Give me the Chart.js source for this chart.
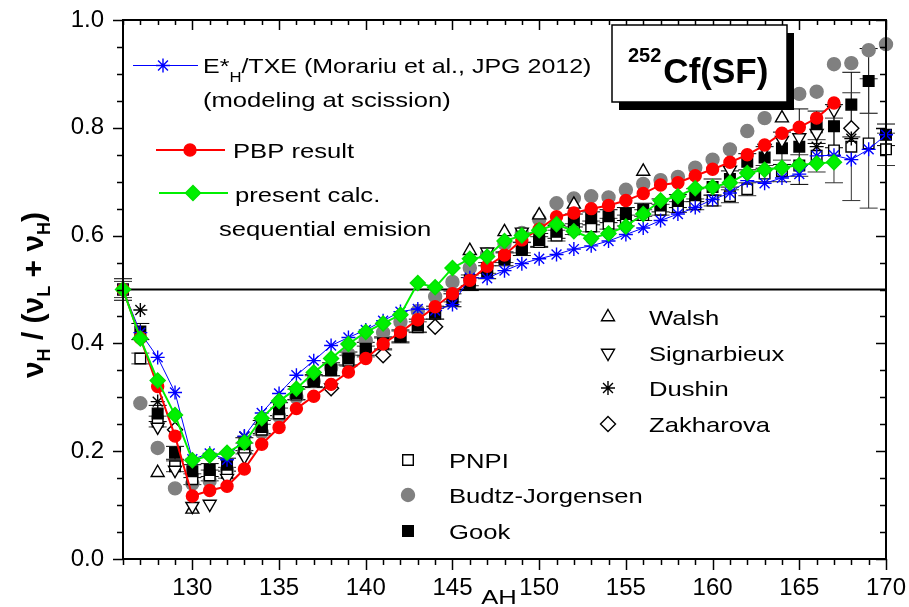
<!DOCTYPE html>
<html>
<head>
<meta charset="utf-8">
<script src="https://cdn.jsdelivr.net/npm/chart.js@4.4.1/dist/chart.umd.min.js"></script>
<style>
  html, body { margin: 0; padding: 0; background: #fff; }
</style>
</head>
<body>
<canvas id="c" width="909" height="607"></canvas>
<script>
// heavy fragment mass number
const massNumbers = [126, 127, 128, 129, 130, 131, 132, 133, 134, 135,
                     136, 137, 138, 139, 140, 141, 142, 143, 144, 145,
                     146, 147, 148, 149, 150, 151, 152, 153, 154, 155,
                     156, 157, 158, 159, 160, 161, 162, 163, 164, 165,
                     166, 167, 168, 169, 170];

// E*H/TXE, Morariu et al. (modeling at scission)
const morariu = [0.50, 0.42, 0.374, 0.309, 0.185, 0.196, 0.184, 0.228, 0.271, 0.307,
                 0.341, 0.368, 0.396, 0.411, 0.425, 0.442, 0.459, 0.464, 0.461, 0.472,
                 0.522, 0.521, 0.535, 0.548, 0.557, 0.565, 0.575, 0.581, 0.590, 0.602,
                 0.614, 0.628, 0.640, 0.652, 0.667, 0.679, 0.702, 0.697, 0.707, 0.714,
                 0.748, 0.749, 0.741, 0.760, 0.787];

// PBP result
const pbp = [0.50, 0.41, 0.32, 0.228, 0.117, 0.127, 0.135, 0.167, 0.213, 0.244,
             0.279, 0.302, 0.324, 0.347, 0.372, 0.399, 0.421, 0.444, 0.468, 0.492,
             0.517, 0.543, 0.564, 0.592, 0.612, 0.635, 0.642, 0.650, 0.656, 0.665,
             0.678, 0.694, 0.698, 0.711, 0.723, 0.736, 0.750, 0.768, 0.790, 0.801,
             0.818, 0.846, null, null, null];

// present calc., sequential emission
const present = [0.50, 0.409, 0.331, 0.267, 0.183, 0.192, 0.197, 0.216, 0.261, 0.293,
                 0.316, 0.346, 0.372, 0.399, 0.421, 0.437, 0.453, 0.512, 0.504, 0.540,
                 0.557, 0.561, 0.590, 0.600, 0.610, 0.621, 0.608, 0.595, 0.604, 0.617,
                 0.640, 0.665, 0.673, 0.688, 0.690, 0.698, 0.716, 0.722, 0.726, 0.731,
                 0.734, 0.736, null, null, null];

// experimental data
const budtz = [null, 0.289, 0.206, 0.131, 0.14, 0.145, 0.165, 0.20, 0.235, 0.265,
               0.30, 0.33, 0.355, 0.38, 0.405, 0.42, 0.44, 0.46, 0.487, 0.514,
               0.54, 0.565, 0.585, 0.605, 0.63, 0.66, 0.669, 0.673, 0.671, 0.685,
               0.696, 0.703, 0.709, 0.726, 0.741, 0.76, 0.794, 0.818, null, 0.863,
               0.867, 0.918, 0.920, 0.944, 0.955];

const gook = [0.50, 0.422, 0.27, 0.197, 0.163, 0.165, 0.175, 0.213, 0.245, 0.278,
              0.308, 0.33, 0.352, 0.372, 0.39, 0.40, 0.413, 0.433, 0.457, 0.48,
              0.51, 0.532, 0.556, 0.575, 0.592, 0.607, 0.628, 0.632, 0.636, 0.640,
              0.648, 0.656, 0.664, 0.675, 0.69, 0.705, 0.737, 0.745, 0.762, 0.765,
              0.801, 0.803, 0.843, 0.887, 0.787];
const gookErr = [0.02, 0.015, 0.015, 0.012, 0.012, 0.012, 0.012, 0.012, 0.012, 0.012,
                 0.012, 0.012, 0.012, 0.012, 0.012, 0.012, 0.012, 0.012, 0.012, 0.012,
                 0.012, 0.012, 0.012, 0.012, 0.012, 0.012, 0.012, 0.012, 0.012, 0.012,
                 0.012, 0.012, 0.012, 0.012, 0.015, 0.015, 0.015, 0.02, 0.03, 0.07,
                 0.03, 0.04, 0.06, 0.06, 0.02];

const pnpi = [0.50, 0.372, 0.255, 0.172, 0.148, 0.155, 0.16, 0.205, 0.24, 0.27,
              0.305, 0.33, 0.35, 0.368, 0.385, 0.40, 0.413, 0.43, 0.455, 0.487,
              0.517, 0.54, 0.56, 0.578, 0.588, 0.600, 0.612, 0.617, 0.622, 0.628,
              0.638, 0.648, 0.653, 0.658, 0.665, 0.673, 0.686, 0.715, 0.72, 0.73,
              0.748, 0.758, 0.765, 0.771, 0.760];
const pnpiErr = [0.015, 0.01, 0.01, 0.01, 0.01, 0.01, 0.01, 0.01, 0.01, 0.01,
                 0.01, 0.01, 0.01, 0.01, 0.01, 0.01, 0.01, 0.01, 0.01, 0.01,
                 0.01, 0.01, 0.01, 0.01, 0.01, 0.01, 0.01, 0.01, 0.01, 0.01,
                 0.01, 0.01, 0.01, 0.01, 0.01, 0.012, 0.012, 0.015, 0.02, 0.02,
                 0.03, 0.06, 0.10, 0.12, 0.03];

const walshA = [128, 130, 146, 148, 150, 152, 156, 164];
const walshV = [0.16, 0.092, 0.572, 0.607, 0.638, 0.658, 0.719, 0.818];

const signarbieuxA = [128, 129, 130, 131, 132, 133, 138, 147, 149, 161, 163, 164, 165, 166, 167];
const signarbieuxV = [0.245, 0.165, 0.098, 0.102, 0.15, 0.19, 0.318, 0.57, 0.607, 0.722, 0.762, 0.777, 0.782, 0.79, 0.833];

const dushinA = [127, 128, 133, 166, 168];
const dushinV = [0.462, 0.292, 0.227, 0.765, 0.78];

const zakharovaA = [129, 138, 141, 144, 168];
const zakharovaV = [0.24, 0.317, 0.378, 0.431, 0.799];

// axes
const xTicks = [130, 135, 140, 145, 150, 155, 160, 165, 170];
const yTicks = [0.0, 0.2, 0.4, 0.6, 0.8, 1.0];
const yMinorTicks = [0.05, 0.1, 0.15, 0.25, 0.3, 0.35, 0.45, 0.5, 0.55, 0.65, 0.7, 0.75, 0.85, 0.9, 0.95];

const FONT = '"Liberation Sans", Arial, Helvetica, sans-serif';

function pts(xs, ys, errs) {
    const out = [];
    xs.forEach((x, i) => {
        if (ys[i] === null) return;
        const p = { x: x, y: ys[i] };
        if (errs) p.e = errs[i];
        out.push(p);
    });
    return out;
}

function marker(style, color, fill, radius, extra) {
    return Object.assign({
        showLine: false,
        pointStyle: style,
        pointRadius: radius,
        pointHoverRadius: radius,
        pointBorderColor: color,
        pointBackgroundColor: fill,
        pointBorderWidth: 1.4,
        clip: false
    }, extra || {});
}

const datasets = [
    Object.assign(marker('rectRot', '#00e000', '#00f000', 7.5, { order: 0 }), {
        label: 'present calc.', data: pts(massNumbers, present),
        showLine: true, borderColor: '#00f000', borderWidth: 2
    }),
    Object.assign(marker('circle', '#ff0000', '#ff0000', 6, { order: 1 }), {
        label: 'PBP result', data: pts(massNumbers, pbp),
        showLine: true, borderColor: '#ff0000', borderWidth: 2
    }),
    Object.assign(marker('star', '#0000ff', '#0000ff', 7, { order: 2 }), {
        label: 'Morariu', data: pts(massNumbers, morariu),
        showLine: true, borderColor: '#0000ff', borderWidth: 1
    }),
    Object.assign(marker('star', '#000', '#000', 7, { order: 3 }), { label: 'Dushin', data: pts(dushinA, dushinV) }),
    Object.assign(marker('rectRot', '#000', '#fff', 7.5, { order: 4 }), { label: 'Zakharova', data: pts(zakharovaA, zakharovaV) }),
    Object.assign(marker('triangle', '#000', '#fff', 7.5, { order: 5, pointRotation: 180 }), { label: 'Signarbieux', data: pts(signarbieuxA, signarbieuxV) }),
    Object.assign(marker('triangle', '#000', '#fff', 7.5, { order: 6 }), { label: 'Walsh', data: pts(walshA, walshV) }),
    Object.assign(marker('rect', '#000', '#000', 7.5, { order: 7 }), { label: 'Gook', data: pts(massNumbers, gook, gookErr), errColor: '#000' }),
    Object.assign(marker('rect', '#000', '#fff', 7.5, { order: 8 }), { label: 'PNPI', data: pts(massNumbers, pnpi, pnpiErr), errColor: '#333' }),
    Object.assign(marker('circle', '#808080', '#808080', 6.5, { order: 9 }), { label: 'Budtz-Jorgensen', data: pts(massNumbers, budtz) }),
    {
        label: 'half', data: [{ x: 126, y: 0.5 }, { x: 170, y: 0.5 }], showLine: true,
        borderColor: '#000', borderWidth: 2, pointRadius: 0, order: 10
    }
];

// vertical error bars with caps
const errorBars = {
    id: 'errorBars',
    beforeDatasetsDraw(chart) {
        const { ctx, scales: { x, y } } = chart;
        ctx.save();
        ctx.lineWidth = 1;
        chart.data.datasets.forEach(ds => {
            if (!ds.errColor) return;
            ctx.strokeStyle = ds.errColor;
            ds.data.forEach(p => {
                if (!p.e) return;
                const px = x.getPixelForValue(p.x);
                const y1 = y.getPixelForValue(p.y + p.e);
                const y2 = y.getPixelForValue(p.y - p.e);
                ctx.beginPath();
                ctx.moveTo(px, y1); ctx.lineTo(px, y2);
                ctx.moveTo(px - 9, y1); ctx.lineTo(px + 9, y1);
                ctx.moveTo(px - 9, y2); ctx.lineTo(px + 9, y2);
                ctx.stroke();
            });
        });
        ctx.restore();
    }
};

// box frame with major/minor ticks on all sides
const frameTicks = {
    id: 'frameTicks',
    afterDraw(chart) {
        const { ctx, chartArea: a, scales: { x, y } } = chart;
        ctx.save();
        ctx.strokeStyle = '#000';
        ctx.lineWidth = 1.5;
        ctx.beginPath();
        massNumbers.forEach(v => {
            const px = Math.round(x.getPixelForValue(v)) + 0.5;
            const major = xTicks.includes(v);
            ctx.moveTo(px, a.bottom); ctx.lineTo(px, a.bottom + (major ? 11 : 6));
            ctx.moveTo(px, a.top); ctx.lineTo(px, a.top + (major ? 10 : 5));
        });
        yTicks.concat(yMinorTicks).forEach(v => {
            const py = Math.round(y.getPixelForValue(v)) + 0.5;
            const major = yTicks.includes(v);
            ctx.moveTo(a.left, py); ctx.lineTo(a.left - (major ? 10 : 6), py);
            ctx.moveTo(a.right, py); ctx.lineTo(a.right - (major ? 10 : 6), py);
        });
        ctx.stroke();
        ctx.lineWidth = 2;
        ctx.strokeRect(a.left, a.top, a.right - a.left, a.bottom - a.top);
        ctx.restore();
    }
};

function text(ctx, s, x, y, size, opt) {
    opt = opt || {};
    const sx = opt.sx || 1;
    ctx.save();
    ctx.font = (opt.bold ? 'bold ' : '') + size + 'px ' + FONT;
    ctx.fillStyle = '#000';
    ctx.textBaseline = 'alphabetic';
    ctx.textAlign = 'left';
    ctx.translate(x, y);
    ctx.scale(sx, 1);
    ctx.fillText(s, 0, 0);
    const w = ctx.measureText(s).width * sx;
    ctx.restore();
    return w;
}

function richWidth(ctx, parts, sx) {
    let w = 0;
    parts.forEach(p => {
        ctx.font = (p.bold ? 'bold ' : '') + p.size + 'px ' + FONT;
        w += ctx.measureText(p.t).width * sx;
    });
    return w;
}

function rich(ctx, parts, x, y, sx) {
    let cx = x;
    parts.forEach(p => {
        cx += text(ctx, p.t, cx, y + (p.dy || 0), p.size, { bold: p.bold, sx: sx });
    });
}

function symbol(ctx, style, x, y, radius, stroke, fill, rotation, lw) {
    ctx.save();
    ctx.strokeStyle = stroke;
    ctx.fillStyle = fill;
    ctx.lineWidth = lw || 1.4;
    Chart.helpers.drawPoint(ctx, { pointStyle: style, radius: radius, rotation: rotation || 0, borderWidth: lw || 1.4 }, x, y);
    ctx.restore();
}

const LSX = 1.22;   // legend text is drawn a little wide in the original

const annotations = {
    id: 'annotations',
    afterDraw(chart) {
        const ctx = chart.ctx;

        // model legend (top left)
        ctx.save();
        ctx.strokeStyle = '#0000ff'; ctx.lineWidth = 1;
        ctx.beginPath(); ctx.moveTo(133, 65.5); ctx.lineTo(198, 65.5); ctx.stroke();
        ctx.restore();
        symbol(ctx, 'star', 163, 65.5, 7, '#0000ff', '#0000ff');
        rich(ctx, [
            { t: 'E*', size: 21 },
            { t: 'H', size: 14, dy: 9 },
            { t: '/TXE (Morariu et al., JPG 2012)', size: 21 }
        ], 203, 73, 1.19);
        text(ctx, '(modeling at scission)', 203, 107, 21, { sx: LSX });

        ctx.save();
        ctx.strokeStyle = '#ff0000'; ctx.lineWidth = 2;
        ctx.beginPath(); ctx.moveTo(156, 150); ctx.lineTo(225, 150); ctx.stroke();
        ctx.restore();
        symbol(ctx, 'circle', 190, 150, 6, '#ff0000', '#ff0000');
        text(ctx, 'PBP result', 233, 158, 21, { sx: LSX });

        ctx.save();
        ctx.strokeStyle = '#00f000'; ctx.lineWidth = 2;
        ctx.beginPath(); ctx.moveTo(159, 193); ctx.lineTo(228, 193); ctx.stroke();
        ctx.restore();
        symbol(ctx, 'rectRot', 193, 193, 7.5, '#00e000', '#00f000');
        text(ctx, 'present calc.', 235, 202, 21, { sx: LSX });
        text(ctx, 'sequential emision', 219, 236, 21, { sx: LSX });

        // experimental legend (right)
        symbol(ctx, 'triangle', 608, 317, 7.5, '#000', '#fff');
        text(ctx, 'Walsh', 649, 325, 21, { sx: LSX });
        symbol(ctx, 'triangle', 608, 353, 7.5, '#000', '#fff', 180);
        text(ctx, 'Signarbieux', 649, 361, 21, { sx: LSX });
        symbol(ctx, 'star', 608, 388, 7, '#000', '#000');
        text(ctx, 'Dushin', 649, 396, 21, { sx: LSX });
        symbol(ctx, 'rectRot', 608, 424, 7.5, '#000', '#fff');
        text(ctx, 'Zakharova', 649, 432, 21, { sx: LSX });

        symbol(ctx, 'rect', 408, 460, 7.5, '#000', '#fff');
        text(ctx, 'PNPI', 449, 468, 21, { sx: LSX });
        symbol(ctx, 'circle', 408, 495, 6.5, '#808080', '#808080');
        text(ctx, 'Budtz-Jorgensen', 449, 503, 21, { sx: LSX });
        symbol(ctx, 'rect', 408, 531, 7.5, '#000', '#000');
        text(ctx, 'Gook', 449, 539, 21, { sx: LSX });

        // reaction label box with drop shadow
        ctx.save();
        ctx.fillStyle = '#000';
        ctx.fillRect(619, 33, 175, 77);
        ctx.fillStyle = '#fff';
        ctx.fillRect(612, 25, 175, 77);
        ctx.strokeStyle = '#000'; ctx.lineWidth = 1.5;
        ctx.strokeRect(612, 25, 175, 77);
        ctx.restore();
        const w252 = text(ctx, '252', 628, 62, 20, { bold: true });
        text(ctx, 'Cf(SF)', 628 + w252 + 2, 83, 35, { bold: true });

        // x axis title
        ctx.save();
        ctx.font = '21px ' + FONT;
        const wA = ctx.measureText('AH').width * LSX;
        ctx.restore();
        text(ctx, 'AH', 499 - wA / 2, 604, 21, { sx: LSX });

        // y axis title, rotated
        const yParts = [
            { t: 'ν', size: 30, bold: true },
            { t: 'H', size: 18, bold: true, dy: 7 },
            { t: ' / (', size: 30, bold: true },
            { t: 'ν', size: 30, bold: true },
            { t: 'L', size: 18, bold: true, dy: 7 },
            { t: ' + ', size: 30, bold: true },
            { t: 'ν', size: 30, bold: true },
            { t: 'H', size: 18, bold: true, dy: 7 },
            { t: ')', size: 30, bold: true }
        ];
        const tw = richWidth(ctx, yParts, 1);
        ctx.save();
        ctx.translate(43, 295);
        ctx.rotate(-Math.PI / 2);
        rich(ctx, yParts, -tw / 2, 0, 1);
        ctx.restore();
    }
};

new Chart(document.getElementById('c'), {
    type: 'scatter',
    data: { datasets: datasets },
    options: {
        responsive: false,
        animation: false,
        events: [],
        layout: { padding: { top: 20, right: 23, left: 0, bottom: 0 } },
        plugins: {
            legend: { display: false },
            tooltip: { enabled: false }
        },
        scales: {
            x: {
                type: 'linear',
                min: 126,
                max: 170,
                afterBuildTicks: s => { s.ticks = xTicks.map(v => ({ value: v })); },
                afterFit: s => { s.height = 48; s.paddingLeft = 0; s.paddingRight = 0; },
                grid: { display: false, drawTicks: false },
                border: { display: true, color: '#000', width: 2 },
                ticks: {
                    color: '#000', padding: 15, maxRotation: 0, autoSkip: false,
                    font: { family: FONT, size: 24 }
                }
            },
            y: {
                type: 'linear',
                min: 0,
                max: 1,
                afterBuildTicks: s => { s.ticks = yTicks.map(v => ({ value: v })); },
                afterFit: s => { s.width = 123; s.paddingTop = 0; s.paddingBottom = 0; },
                grid: { display: false, drawTicks: false },
                border: { display: true, color: '#000', width: 2 },
                ticks: {
                    color: '#000', padding: 19,
                    callback: v => v.toFixed(1),
                    font: { family: FONT, size: 24 }
                }
            }
        }
    },
    plugins: [errorBars, frameTicks, annotations]
});
</script>
</body>
</html>
